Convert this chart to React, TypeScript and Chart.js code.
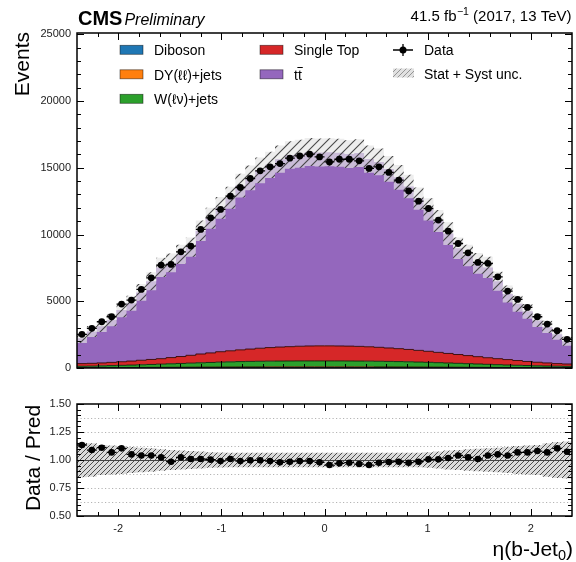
import React, { useEffect, useRef } from "react";
import { Chart, registerables } from "chart.js";

Chart.register(...registerables);

const FONT = "'Liberation Sans', Arial, Helvetica, sans-serif";
Chart.defaults.font.family = FONT;
Chart.defaults.color = "#222";

// ---- binning (eta of leading b-jet) ----
const ETA_MIN = -2.4;
const ETA_MAX = 2.4;
const N_BINS = 50;

// ---- observed data, events per bin ----
const DATA = [
  2522, 2972, 3466, 3840, 4790, 5090, 5890, 6760, 7710, 7760,
  8705, 9132, 10380, 11250, 11880, 12875, 13525, 14200, 14770, 15070,
  15320, 15720, 15890, 16020, 15815, 15440, 15640, 15640, 15520, 14950,
  15070, 14650, 14070, 13270, 12500, 11950, 11080, 10250, 9330, 8630,
  7910, 7840, 6830, 5760, 5140, 4540, 3840, 3290, 2790, 2150,
];

// ---- Data / Pred ----
const RATIO = [
  1.134, 1.089, 1.11, 1.068, 1.104, 1.05, 1.04, 1.04, 1.023, 0.985,
  1.023, 1.009, 1.009, 1.003, 0.99, 1.009, 0.99, 0.997, 0.997, 0.99,
  0.979, 0.985, 0.99, 0.99, 0.979, 0.955, 0.97, 0.976, 0.964, 0.955,
  0.976, 0.982, 0.985, 0.976, 0.985, 1.006, 1.006, 1.018, 1.04, 1.024,
  1.009, 1.04, 1.05, 1.04, 1.068, 1.068, 1.08, 1.068, 1.104, 1.074,
];

// ---- MC stack, events per bin ----
const DIBOSON = [
  8, 9, 10, 11, 12, 13, 14, 15, 16, 17, 18, 19, 20, 21, 22, 23, 24, 24, 25, 25,
  26, 26, 26, 26, 26, 26, 26, 26, 26, 25, 25, 24, 24, 23, 22, 21, 20, 19, 18, 17,
  16, 15, 14, 13, 12, 11, 10, 9, 8, 8,
];
const DY_JETS = [
  15, 17, 19, 21, 23, 26, 29, 32, 35, 38, 41, 44, 47, 50, 52, 54, 56, 58, 59, 60,
  61, 62, 62, 62, 62, 62, 62, 62, 61, 60, 59, 58, 56, 54, 52, 50, 47, 44, 41, 38,
  35, 32, 29, 26, 23, 21, 19, 17, 15, 14,
];
const W_JETS = [
  107, 114, 131, 148, 165, 181, 197, 218, 239, 260, 281, 302, 323, 344, 366, 383, 400, 413, 421, 430,
  433, 437, 442, 442, 442, 442, 442, 437, 433, 430, 421, 413, 400, 388, 371, 354, 333, 312, 291, 270,
  249, 228, 207, 186, 170, 153, 136, 124, 112, 103,
];
const SINGLE_TOP = [
  200, 210, 220, 240, 270, 300, 340, 375, 410, 465, 520, 585, 660, 715, 780, 830, 880, 925, 975, 1015,
  1050, 1075, 1100, 1120, 1130, 1130, 1120, 1115, 1100, 1075, 1045, 1005, 970, 925, 875, 825, 770, 715, 660, 605,
  550, 495, 450, 405, 355, 305, 265, 230, 195, 175,
];
const TTBAR = [
  1894, 2379, 2743, 3176, 3869, 4328, 5083, 5860, 6837, 7098,
  7649, 8101, 9237, 10086, 10780, 11470, 12302, 12823, 13334, 13692,
  14079, 14359, 14421, 14532, 14494, 14508, 14474, 14385, 14480, 14064,
  13891, 13419, 12834, 12206, 11370, 10629, 9844, 8979, 7961, 7498,
  6989, 6768, 5805, 4908, 4253, 3761, 3126, 2701, 2197, 1702,
];
// relative stat + syst uncertainty per bin
const REL_UNC = [
  0.155, 0.15, 0.135, 0.13, 0.125, 0.115, 0.11, 0.105, 0.095, 0.09,
  0.085, 0.08, 0.075, 0.07, 0.068, 0.065, 0.065, 0.065, 0.065, 0.065,
  0.065, 0.065, 0.065, 0.065, 0.065, 0.065, 0.065, 0.065, 0.065, 0.065,
  0.065, 0.065, 0.065, 0.065, 0.065, 0.07, 0.075, 0.085, 0.09, 0.095,
  0.1, 0.105, 0.11, 0.115, 0.125, 0.13, 0.135, 0.15, 0.16, 0.165,
];

// ---- axis ticks ----
const X_TICKS = [-2, -1, 0, 1, 2];
const Y_TICKS_TOP = [0, 5000, 10000, 15000, 20000, 25000];
const Y_TICKS_RATIO = [0.5, 0.75, 1.0, 1.25, 1.5];
const RATIO_GRID = [0.625, 0.75, 0.875, 1.125, 1.25, 1.375];

// ---- labels ----
const LABEL_DIBOSON = "Diboson";
const LABEL_DY = "DY(ℓℓ)+jets";
const LABEL_W = "W(ℓν)+jets";
const LABEL_ST = "Single Top";
const LABEL_TT = "tt";
const LABEL_DATA = "Data";
const LABEL_UNC = "Stat + Syst unc.";
const LUMI_MAIN = "41.5 fb";
const LUMI_SUP = "−1";
const LUMI_TAIL = " (2017, 13 TeV)";

const COLORS = {
  diboson: "#1f77b4",
  dy: "#ff7f0e",
  w: "#2ca02c",
  st: "#d62728",
  tt: "#9467bd",
};

const EDGES = Array.from({ length: N_BINS + 1 }, (_, i) => ETA_MIN + ((ETA_MAX - ETA_MIN) * i) / N_BINS);
const CENTERS = DATA.map((_, i) => (EDGES[i] + EDGES[i + 1]) / 2);
const steps = (vals: number[]) => EDGES.map((x, i) => ({ x, y: vals[Math.min(i, vals.length - 1)] }));

function minorTicks(lo: number, hi: number, step: number, majors: number[]) {
  const out: number[] = [];
  const n0 = Math.ceil(lo / step - 1e-9);
  const n1 = Math.floor(hi / step + 1e-9);
  for (let n = n0; n <= n1; n++) {
    const v = n * step;
    if (v <= lo + 1e-9 || v >= hi - 1e-9) continue;
    if (majors.some((m) => Math.abs(m - v) < 1e-9)) continue;
    out.push(v);
  }
  return out;
}

function makeHatch(ctx: CanvasRenderingContext2D, size: number, bg: string, fg: string, lw: number) {
  const c = document.createElement("canvas");
  c.width = size;
  c.height = size;
  const g = c.getContext("2d")!;
  g.fillStyle = bg;
  g.fillRect(0, 0, size, size);
  g.strokeStyle = fg;
  g.lineWidth = lw;
  g.beginPath();
  g.moveTo(0, size);
  g.lineTo(size, 0);
  g.moveTo(-size / 2, size / 2);
  g.lineTo(size / 2, -size / 2);
  g.moveTo(size / 2, size * 1.5);
  g.lineTo(size * 1.5, size / 2);
  g.stroke();
  return ctx.createPattern(c, "repeat")!;
}

function framePlugin(id: string, yMajor: number[], yMinor: number[]) {
  const xMinor = minorTicks(ETA_MIN, ETA_MAX, 0.2, X_TICKS);
  return {
    id,
    afterDatasetsDraw(chart: any) {
      const { ctx, chartArea: a, scales } = chart;
      const xs = scales.x;
      const ys = scales.y;
      ctx.save();
      ctx.strokeStyle = "#000";
      ctx.lineWidth = 1;
      ctx.beginPath();
      const xt = (vals: number[], len: number) => {
        for (const v of vals) {
          const p = Math.round(xs.getPixelForValue(v)) + 0.5;
          ctx.moveTo(p, a.bottom);
          ctx.lineTo(p, a.bottom - len);
          ctx.moveTo(p, a.top);
          ctx.lineTo(p, a.top + len);
        }
      };
      const yt = (vals: number[], len: number) => {
        for (const v of vals) {
          const p = Math.round(ys.getPixelForValue(v)) + 0.5;
          ctx.moveTo(a.left, p);
          ctx.lineTo(a.left + len, p);
          ctx.moveTo(a.right, p);
          ctx.lineTo(a.right - len, p);
        }
      };
      xt(X_TICKS, 7);
      xt(xMinor, 4);
      yt(yMajor, 7);
      yt(yMinor, 4);
      ctx.stroke();
      ctx.lineWidth = 1.5;
      ctx.strokeRect(a.left, a.top, a.right - a.left, a.bottom - a.top);
      ctx.restore();
    },
  };
}

function errorBarPlugin(id: string, values: number[], errs: number[]) {
  return {
    id,
    afterDatasetsDraw(chart: any) {
      const { ctx, scales } = chart;
      const xs = scales.x;
      const ys = scales.y;
      ctx.save();
      ctx.strokeStyle = "#000";
      ctx.lineWidth = 1.3;
      ctx.beginPath();
      values.forEach((v, i) => {
        const y = ys.getPixelForValue(v);
        const x1 = xs.getPixelForValue(EDGES[i]);
        const x2 = xs.getPixelForValue(EDGES[i + 1]);
        const xc = xs.getPixelForValue(CENTERS[i]);
        ctx.moveTo(x1, y);
        ctx.lineTo(x2, y);
        ctx.moveTo(xc, ys.getPixelForValue(v - errs[i]));
        ctx.lineTo(xc, ys.getPixelForValue(v + errs[i]));
      });
      ctx.stroke();
      ctx.restore();
    },
  };
}

export default function App() {
  const topRef = useRef<HTMLCanvasElement | null>(null);
  const botRef = useRef<HTMLCanvasElement | null>(null);

  useEffect(() => {
    const c1 = topRef.current!;
    const c2 = botRef.current!;
    const ctx1 = c1.getContext("2d")!;
    const ctx2 = c2.getContext("2d")!;

    const topHatch = makeHatch(ctx1, 9, "rgba(228,228,228,0.68)", "rgba(55,55,55,0.9)", 1.1);
    const ratioHatch = makeHatch(ctx2, 5, "rgba(195,195,195,0.6)", "rgba(70,70,70,0.95)", 1);
    const legendHatch = makeHatch(ctx1, 5, "rgba(225,225,225,1)", "rgba(140,140,140,1)", 0.9);

    const TOTAL = TTBAR.map((t, i) => t + SINGLE_TOP[i] + W_JETS[i] + DY_JETS[i] + DIBOSON[i]);
    const BAND_LO = TOTAL.map((t, i) => t * (1 - REL_UNC[i]));
    const BAND_HI = TOTAL.map((t, i) => t * (1 + REL_UNC[i]));
    const DATA_ERR = DATA.map((d) => Math.sqrt(d));
    const RATIO_ERR = RATIO.map((r, i) => r / Math.sqrt(DATA[i]));
    const R_LO = REL_UNC.map((u) => 1 - u);
    const R_HI = REL_UNC.map((u) => 1 + u);

    const layer = (label: string, vals: number[], color: string, fill: any, order: number, edge: string) => ({
      label,
      data: steps(vals),
      stepped: true,
      stack: "mc",
      fill,
      backgroundColor: color,
      borderColor: edge,
      borderWidth: 1,
      pointRadius: 0,
      order,
    });

    const headerPlugin = {
      id: "header",
      afterDraw(chart: any) {
        const { ctx, chartArea: a } = chart;
        ctx.save();
        ctx.fillStyle = "#000";
        ctx.textBaseline = "alphabetic";
        ctx.textAlign = "left";
        ctx.font = `bold 20px ${FONT}`;
        ctx.fillText("CMS", a.left + 1, 25);
        const wc = ctx.measureText("CMS").width;
        ctx.font = `italic 16px ${FONT}`;
        ctx.fillText("Preliminary", a.left + 1 + wc + 2, 25);

        // luminosity
        ctx.font = `15px ${FONT}`;
        const w1 = ctx.measureText(LUMI_MAIN).width;
        const w3 = ctx.measureText(LUMI_TAIL).width;
        ctx.font = `10.5px ${FONT}`;
        const w2 = ctx.measureText(LUMI_SUP).width;
        let x = 571 - (w1 + w2 + w3);
        ctx.font = `15px ${FONT}`;
        ctx.fillText(LUMI_MAIN, x, 21);
        x += w1;
        ctx.font = `10.5px ${FONT}`;
        ctx.fillText(LUMI_SUP, x + 0.5, 15);
        x += w2 + 0.5;
        ctx.font = `15px ${FONT}`;
        ctx.fillText(LUMI_TAIL, x, 21);

        // y title
        ctx.save();
        ctx.translate(29, a.top - 1);
        ctx.rotate(-Math.PI / 2);
        ctx.textAlign = "right";
        ctx.font = `21px ${FONT}`;
        ctx.fillText("Events", 0, 0);
        ctx.restore();

        // legend
        ctx.font = `14px ${FONT}`;
        const rows = [55, 79.5, 104];
        const boxes: [number, number, string, string][] = [
          [120, rows[0], COLORS.diboson, LABEL_DIBOSON],
          [120, rows[1], COLORS.dy, LABEL_DY],
          [120, rows[2], COLORS.w, LABEL_W],
          [260, rows[0], COLORS.st, LABEL_ST],
          [260, rows[1], COLORS.tt, LABEL_TT],
        ];
        for (const [bx, by, col, lab] of boxes) {
          ctx.fillStyle = col;
          ctx.fillRect(bx, by - 9.7, 23, 9);
          ctx.strokeStyle = "rgba(0,0,0,0.55)";
          ctx.lineWidth = 0.8;
          ctx.strokeRect(bx, by - 9.7, 23, 9);
          ctx.fillStyle = "#000";
          ctx.fillText(lab, bx + 34, by);
        }
        // overline for t-bar
        const wt = ctx.measureText("t").width;
        ctx.strokeStyle = "#000";
        ctx.lineWidth = 1;
        ctx.beginPath();
        ctx.moveTo(294 + wt - 0.5, rows[1] - 12);
        ctx.lineTo(294 + 2 * wt + 1, rows[1] - 12);
        ctx.stroke();

        // data marker
        ctx.beginPath();
        ctx.lineWidth = 1.3;
        ctx.moveTo(393, rows[0] - 5);
        ctx.lineTo(413, rows[0] - 5);
        ctx.moveTo(403, rows[0] - 11);
        ctx.lineTo(403, rows[0] + 1);
        ctx.stroke();
        ctx.beginPath();
        ctx.fillStyle = "#000";
        ctx.arc(403, rows[0] - 5, 3.5, 0, Math.PI * 2);
        ctx.fill();
        ctx.fillText(LABEL_DATA, 424, rows[0]);

        // uncertainty marker
        ctx.fillStyle = legendHatch;
        ctx.fillRect(393, rows[1] - 11, 21, 9);
        ctx.fillStyle = "#000";
        ctx.fillText(LABEL_UNC, 424, rows[1] - 1);
        ctx.restore();
      },
    };

    const top = new Chart(c1, {
      type: "line",
      data: {
        datasets: [
          layer(LABEL_DIBOSON, DIBOSON, COLORS.diboson, "origin", 1, "rgba(10,30,60,0.9)"),
          layer(LABEL_DY, DY_JETS, COLORS.dy, "-1", 2, "rgba(60,30,0,0.9)"),
          layer(LABEL_W, W_JETS, COLORS.w, "-1", 3, "rgba(10,40,10,0.9)"),
          layer(LABEL_ST, SINGLE_TOP, COLORS.st, "-1", 4, "rgba(50,5,5,0.9)"),
          layer(LABEL_TT, TTBAR, COLORS.tt, "-1", 5, "rgba(148,103,189,0)"),
          {
            label: "bandLo",
            data: steps(BAND_LO),
            stepped: true,
            stack: "lo",
            fill: false,
            borderWidth: 0,
            borderColor: "rgba(0,0,0,0)",
            pointRadius: 0,
            order: 0,
          },
          {
            label: "bandHi",
            data: steps(BAND_HI),
            stepped: true,
            stack: "hi",
            fill: "-1",
            backgroundColor: topHatch,
            borderWidth: 0,
            borderColor: "rgba(0,0,0,0)",
            pointRadius: 0,
            order: 0,
          },
          {
            label: LABEL_DATA,
            data: DATA.map((y, i) => ({ x: CENTERS[i], y })),
            stack: "data",
            showLine: false,
            pointRadius: 3.4,
            pointBorderWidth: 0,
            pointBackgroundColor: "#000",
            borderColor: "#000",
            order: -1,
          },
        ],
      } as any,
      options: {
        responsive: false,
        animation: false,
        events: [],
        layout: { padding: { left: 0, right: 2, top: 33, bottom: 17 } },
        plugins: { legend: { display: false }, tooltip: { enabled: false } },
        scales: {
          x: { type: "linear", min: ETA_MIN, max: ETA_MAX, display: false },
          y: {
            type: "linear",
            stacked: true,
            min: 0,
            max: 25100,
            afterFit: (s: any) => {
              s.width = 77;
            },
            afterBuildTicks: (s: any) => {
              s.ticks = Y_TICKS_TOP.map((value) => ({ value }));
            },
            grid: { display: false, drawTicks: false },
            border: { display: false },
            ticks: {
              padding: 6,
              color: "#222",
              font: { size: 11, family: FONT },
              callback: (v: any) => String(v),
            },
          },
        },
      } as any,
      plugins: [
        framePlugin("frameTop", Y_TICKS_TOP, minorTicks(0, 25100, 1000, Y_TICKS_TOP)),
        errorBarPlugin("errTop", DATA, DATA_ERR),
        headerPlugin,
      ],
    });

    const ratioDecor = {
      id: "ratioDecor",
      beforeDatasetsDraw(chart: any) {
        const { ctx, chartArea: a, scales } = chart;
        ctx.save();
        ctx.strokeStyle = "#b4b4b4";
        ctx.lineWidth = 1;
        ctx.setLineDash([1.2, 2.3]);
        ctx.beginPath();
        for (const g of RATIO_GRID) {
          const p = Math.round(scales.y.getPixelForValue(g)) + 0.5;
          ctx.moveTo(a.left, p);
          ctx.lineTo(a.right, p);
        }
        ctx.stroke();
        ctx.restore();
      },
      beforeDatasetDraw(chart: any, args: any) {
        if (args.index !== 2) return;
        const { ctx, chartArea: a, scales } = chart;
        ctx.save();
        ctx.strokeStyle = "#444";
        ctx.lineWidth = 1;
        const p = Math.round(scales.y.getPixelForValue(1)) + 0.5;
        ctx.beginPath();
        ctx.moveTo(a.left, p);
        ctx.lineTo(a.right, p);
        ctx.stroke();
        ctx.restore();
      },
      afterDraw(chart: any) {
        const { ctx, chartArea: a } = chart;
        ctx.save();
        ctx.fillStyle = "#000";
        // y title
        ctx.save();
        ctx.translate(39.5, (a.top + a.bottom) / 2 - 2);
        ctx.rotate(-Math.PI / 2);
        ctx.textAlign = "center";
        ctx.textBaseline = "alphabetic";
        ctx.font = `21px ${FONT}`;
        ctx.fillText("Data / Pred", 0, 0);
        ctx.restore();
        // x title: eta(b-Jet_0)
        ctx.textBaseline = "alphabetic";
        ctx.textAlign = "left";
        const main = "η(b-Jet";
        const sub = "0";
        const close = ")";
        ctx.font = `21px ${FONT}`;
        const wm = ctx.measureText(main).width;
        const wc = ctx.measureText(close).width;
        ctx.font = `14.5px ${FONT}`;
        const ws = ctx.measureText(sub).width;
        let x = 573 - (wm + ws + wc);
        const y = 171;
        ctx.font = `21px ${FONT}`;
        ctx.fillText(main, x, y);
        x += wm;
        ctx.font = `14.5px ${FONT}`;
        ctx.fillText(sub, x, y + 4);
        x += ws;
        ctx.font = `21px ${FONT}`;
        ctx.fillText(close, x, y);
        ctx.restore();
      },
    };

    const bottom = new Chart(c2, {
      type: "line",
      data: {
        datasets: [
          {
            label: "rLo",
            data: steps(R_LO),
            stepped: true,
            fill: false,
            borderWidth: 0,
            borderColor: "rgba(0,0,0,0)",
            pointRadius: 0,
            order: 1,
          },
          {
            label: "rHi",
            data: steps(R_HI),
            stepped: true,
            fill: "-1",
            backgroundColor: ratioHatch,
            borderWidth: 0,
            borderColor: "rgba(0,0,0,0)",
            pointRadius: 0,
            order: 1,
          },
          {
            label: "ratio",
            data: RATIO.map((y, i) => ({ x: CENTERS[i], y })),
            showLine: false,
            pointRadius: 3.3,
            pointBorderWidth: 0,
            pointBackgroundColor: "#000",
            borderColor: "#000",
            order: 0,
          },
        ],
      } as any,
      options: {
        responsive: false,
        animation: false,
        events: [],
        layout: { padding: { left: 0, right: 2, top: 19, bottom: 26 } },
        plugins: { legend: { display: false }, tooltip: { enabled: false } },
        scales: {
          x: {
            type: "linear",
            min: ETA_MIN,
            max: ETA_MAX,
            afterFit: (s: any) => {
              s.height = 20;
            },
            afterBuildTicks: (s: any) => {
              s.ticks = X_TICKS.map((value) => ({ value }));
            },
            grid: { display: false, drawTicks: false },
            border: { display: false },
            ticks: {
              padding: 6,
              color: "#222",
              maxRotation: 0,
              font: { size: 11, family: FONT },
              callback: (v: any) => String(v),
            },
          },
          y: {
            type: "linear",
            min: 0.5,
            max: 1.5,
            afterFit: (s: any) => {
              s.width = 77;
            },
            afterBuildTicks: (s: any) => {
              s.ticks = Y_TICKS_RATIO.map((value) => ({ value }));
            },
            grid: { display: false, drawTicks: false },
            border: { display: false },
            ticks: {
              padding: 6,
              color: "#222",
              font: { size: 11, family: FONT },
              callback: (v: any) => Number(v).toFixed(2),
            },
          },
        },
      } as any,
      plugins: [
        ratioDecor,
        framePlugin("frameRatio", Y_TICKS_RATIO, minorTicks(0.5, 1.5, 0.05, Y_TICKS_RATIO)),
        errorBarPlugin("errRatio", RATIO, RATIO_ERR),
      ],
    });

    return () => {
      top.destroy();
      bottom.destroy();
    };
  }, []);

  return (
    <div style={{ position: "fixed", left: 0, top: 0, width: 576, height: 562, background: "#fff" }}>
      <canvas
        ref={topRef}
        width={576}
        height={385}
        style={{ position: "absolute", left: 0, top: 0, width: 576, height: 385 }}
      />
      <canvas
        ref={botRef}
        width={576}
        height={177}
        style={{ position: "absolute", left: 0, top: 385, width: 576, height: 177 }}
      />
    </div>
  );
}
